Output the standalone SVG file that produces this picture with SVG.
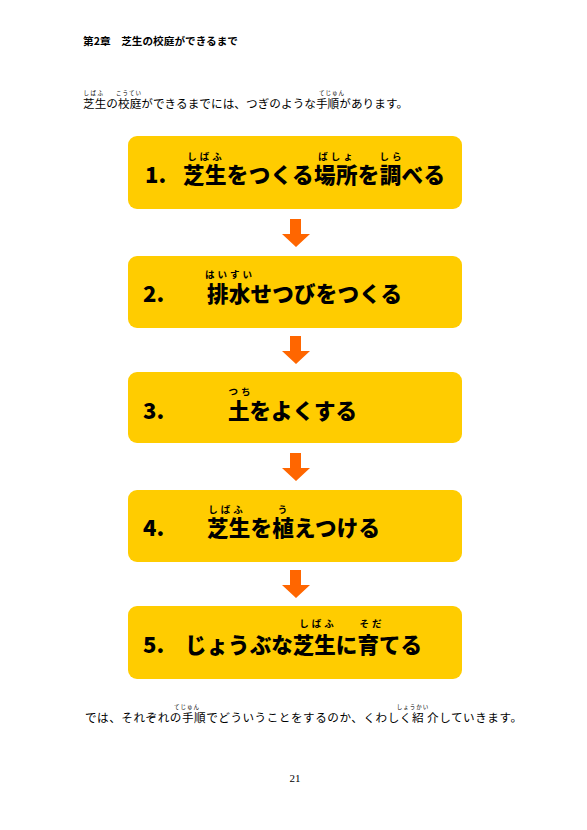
<svg xmlns="http://www.w3.org/2000/svg" width="587" height="830" viewBox="0 0 587 830">
<style>
.bg{fill:#ffffff}
.box{fill:#FFCC00}
.arrow{fill:#FF6600}
.hdr{font-family:"Noto Sans CJK JP","Noto Sans",sans-serif;font-weight:700;font-size:10px;fill:#000}
.body{font-family:"Noto Sans CJK JP","Noto Sans",sans-serif;font-size:11.6px;fill:#000}
.rb{font-family:"Noto Sans CJK JP","Noto Sans",sans-serif;font-size:5.5px;fill:#000;text-anchor:middle}
.num{font-family:"Noto Sans CJK JP","Noto Sans",sans-serif;font-weight:900;font-size:22px;fill:#000}
.main{font-family:"Noto Sans CJK JP","Noto Sans",sans-serif;font-weight:900;font-size:21.5px;fill:#000}
.rbig{font-family:"Noto Sans CJK JP","Noto Sans",sans-serif;font-weight:700;font-size:9.5px;fill:#000;text-anchor:middle;letter-spacing:3px}
.pg{font-family:"Liberation Serif",serif;font-size:11px;fill:#000;text-anchor:middle}
</style>
<defs>
<path id="arr" d="M-6,0 H5 V15 H14 L0,28 L-14,15 H-6 Z"/>
</defs>
<rect class="bg" x="0" y="0" width="587" height="830"/>

<g id="header">
<text class="hdr" x="83" y="45" textLength="155" lengthAdjust="spacingAndGlyphs">第2章　芝生の校庭ができるまで</text>
</g>

<g id="intro">
<text class="body" x="83" y="108" textLength="325" lengthAdjust="spacing">芝生の校庭ができるまでには、つぎのような手順があります。</text>
<text class="rb" x="94" y="94.5" letter-spacing="1.5">しばふ</text>
<text class="rb" x="129" y="94.5" letter-spacing="1">こうてい</text>
<text class="rb" x="332" y="94.5" letter-spacing="1">てじゅん</text>
</g>

<g id="connectors">
<use href="#arr" x="296" y="219" class="arrow"/>
<use href="#arr" x="296" y="336" class="arrow"/>
<use href="#arr" x="296" y="453" class="arrow"/>
<use href="#arr" x="296" y="570" class="arrow"/>
</g>

<g id="step1">
<rect class="box" x="128" y="136" width="334" height="73" rx="9"/>
<text class="num" x="145" y="183">1.</text>
<text class="main" x="183" y="183" textLength="262" lengthAdjust="spacing">芝生をつくる場所を調べる</text>
<text class="rbig" x="206" y="160">しばふ</text>
<text class="rbig" x="337" y="160">ばしょ</text>
<text class="rbig" x="392" y="160">しら</text>
</g>

<g id="step2">
<rect class="box" x="128" y="256" width="334" height="72" rx="9"/>
<text class="num" x="143" y="302">2.</text>
<text class="main" x="207" y="302" textLength="195" lengthAdjust="spacing">排水せつびをつくる</text>
<text class="rbig" x="230" y="278" letter-spacing="0.5">はいすい</text>
</g>

<g id="step3">
<rect class="box" x="128" y="372" width="334" height="71" rx="9"/>
<text class="num" x="143" y="419">3.</text>
<text class="main" x="228" y="419" textLength="129" lengthAdjust="spacing">土をよくする</text>
<text class="rbig" x="241" y="395" letter-spacing="1">つち</text>
</g>

<g id="step4">
<rect class="box" x="128" y="490" width="334" height="72" rx="9"/>
<text class="num" x="143" y="536">4.</text>
<text class="main" x="207" y="536" textLength="173" lengthAdjust="spacing">芝生を植えつける</text>
<text class="rbig" x="227" y="513">しばふ</text>
<text class="rbig" x="284" y="513" letter-spacing="0">う</text>
</g>

<g id="step5">
<rect class="box" x="128" y="606" width="334" height="73" rx="9"/>
<text class="num" x="143" y="653">5.</text>
<text class="main" x="185" y="653" textLength="237" lengthAdjust="spacing">じょうぶな芝生に育てる</text>
<text class="rbig" x="318" y="627">しばふ</text>
<text class="rbig" x="372" y="627" letter-spacing="1">そだ</text>
</g>

<g id="outro">
<text class="body" x="85" y="722" textLength="437" lengthAdjust="spacing">では、それぞれの手順でどういうことをするのか、くわしく紹 介していきます。</text>
<text class="rb" x="187" y="708.5" letter-spacing="1">てじゅん</text>
<text class="rb" x="413" y="708.5" letter-spacing="1">しょうかい</text>
</g>

<g id="page">
<text class="pg" x="295" y="782">21</text>
</g>
</svg>
